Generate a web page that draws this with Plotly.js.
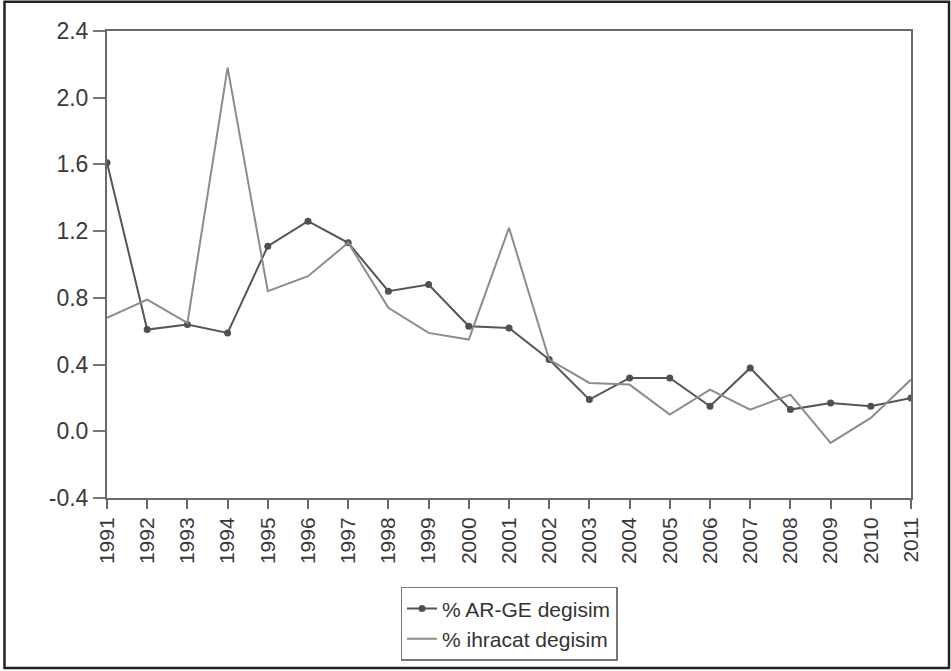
<!DOCTYPE html>
<html>
<head>
<meta charset="utf-8">
<script src="https://cdn.plot.ly/plotly-3.0.1.min.js"></script>
<style>
html,body{margin:0;padding:0;background:#fff;}
#chart{width:951px;height:671px;}
</style>
</head>
<body>
<div id="chart"></div>
<script>
var years = [1991,1992,1993,1994,1995,1996,1997,1998,1999,2000,2001,2002,2003,2004,2005,2006,2007,2008,2009,2010,2011];
var arge = [1.61,0.61,0.64,0.59,1.11,1.26,1.13,0.84,0.88,0.63,0.62,0.43,0.19,0.32,0.32,0.15,0.38,0.13,0.17,0.15,0.20];
var ihracat = [0.68,0.79,0.65,2.18,0.84,0.93,1.13,0.74,0.59,0.55,1.22,0.43,0.29,0.28,0.10,0.25,0.13,0.22,-0.07,0.08,0.31];
var yTicks = [-0.4,0.0,0.4,0.8,1.2,1.6,2.0,2.4];
var yTickText = ['-0.4','0.0','0.4','0.8','1.2','1.6','2.0','2.4'];
var seriesNames = ['% AR-GE degisim','% ihracat degisim'];

var traces = [
  {x: years, y: arge, name: seriesNames[0], type: 'scatter', mode: 'lines+markers',
   line: {color: '#555555', width: 2}, marker: {color: '#505050', size: 7}},
  {x: years, y: ihracat, name: seriesNames[1], type: 'scatter', mode: 'lines',
   line: {color: '#8c8c8c', width: 2}}
];

var layout = {
  width: 951, height: 671,
  margin: {l: 107, r: 40, t: 31, b: 173, autoexpand: false},
  paper_bgcolor: '#ffffff', plot_bgcolor: '#ffffff',
  font: {family: 'Liberation Sans, Arial, sans-serif', color: '#3a3a3a', size: 20},
  showlegend: true,
  xaxis: {
    range: [1991, 2011], tickmode: 'array', tickvals: years,
    ticktext: years.map(String), tickangle: -90,
    ticks: 'outside', ticklen: 9, tickwidth: 2, tickcolor: '#666',
    showline: true, linecolor: '#6a6a6a', linewidth: 2, mirror: true,
    showgrid: false, zeroline: false, automargin: false,
    tickfont: {size: 21, color: '#3a3a3a'}
  },
  yaxis: {
    range: [-0.4, 2.4], tickmode: 'array', tickvals: yTicks, ticktext: yTickText,
    ticks: 'outside', ticklen: 12, tickwidth: 2, tickcolor: '#777',
    showline: true, linecolor: '#6a6a6a', linewidth: 2, mirror: true,
    showgrid: false, zeroline: false, automargin: false,
    tickfont: {size: 23, color: '#3a3a3a'}
  },
  legend: {
    x: 0.5, xanchor: 'center', y: -0.19, yanchor: 'top',
    bordercolor: '#777', borderwidth: 1.5, bgcolor: '#fff',
    font: {size: 21, color: '#333'}, tracegroupgap: 0
  },
  shapes: [
    {type: 'rect', xref: 'paper', yref: 'paper',
     x0: -0.1275, x1: 1.0473, y0: -0.364, y1: 1.0625,
     line: {color: '#222', width: 2.5}, fillcolor: 'rgba(0,0,0,0)', layer: 'below'}
  ]
};

Plotly.newPlot('chart', traces, layout, {displayModeBar: false, staticPlot: true});
</script>
</body>
</html>
